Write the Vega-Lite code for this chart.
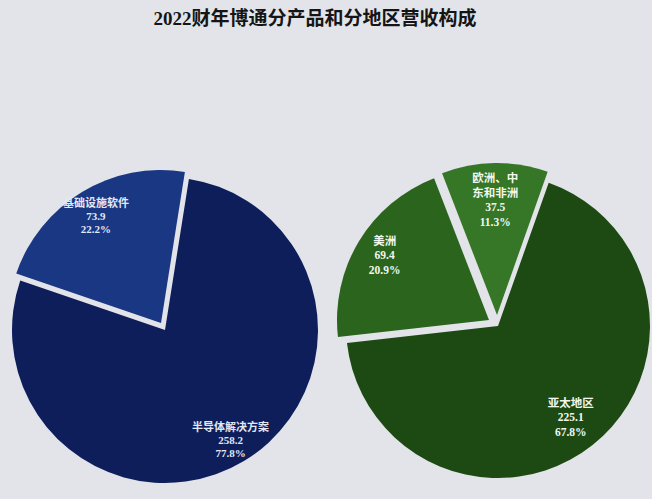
{
  "$schema": "https://vega.github.io/schema/vega-lite/v6.json",
  "background": "#e2e4e9",
  "padding": {"left": 5, "right": 0, "top": 10, "bottom": 0},
  "title": {
    "text": "2022财年博通分产品和分地区营收构成",
    "fontSize": 19,
    "font": "Liberation Serif, Noto Sans CJK SC",
    "fontWeight": "bold",
    "color": "#151515",
    "anchor": "middle",
    "offset": 132,
    "dx": -14
  },
  "datasets": {
    "product": [
      {"name": "半导体解决方案", "value": 258.2, "pct": 77.8},
      {"name": "基础设施软件", "value": 73.9, "pct": 22.2}
    ],
    "region": [
      {"name": "亚太地区", "value": 225.1, "pct": 67.8},
      {"name": "美洲", "value": 69.4, "pct": 20.9},
      {"name": "欧洲、中\n东和非洲", "value": 37.5, "pct": 11.3}
    ]
  },
  "spacing": 12,
  "hconcat": [
    {
      "width": 320,
      "height": 338,
      "data": {"name": "product"},
      "transform": [
        {"stack": "value", "groupby": [], "sort": [{"field": "value", "order": "descending"}], "as": ["v0", "v1"]},
        {"calculate": "datum.name + '\\n' + format(datum.value, '.1f') + '\\n' + format(datum.pct, '.1f') + '%'", "as": "label"}
      ],
      "layer": [
        {
          "transform": [{"filter": "datum.name === '半导体解决方案'"}],
          "mark": {"type": "arc", "radius": 153, "color": "#0e1e5b"},
          "encoding": {
            "theta": {"field": "v0", "type": "quantitative", "scale": {"domain": [0, 332.1], "range": [0.157, 6.440]}},
            "theta2": {"field": "v1"}
          }
        },
        {
          "transform": [{"filter": "datum.name === '基础设施软件'"}],
          "mark": {"type": "arc", "radius": 153, "color": "#1a3784", "xOffset": -4, "yOffset": -7},
          "encoding": {
            "theta": {"field": "v0", "type": "quantitative", "scale": {"domain": [0, 332.1], "range": [0.157, 6.440]}},
            "theta2": {"field": "v1"}
          }
        },
        {
          "mark": {"type": "text", "radius": 127, "dy": -11, "font": "Liberation Serif, Noto Sans CJK SC", "fontSize": 11, "fontWeight": "bold", "lineHeight": 13, "lineBreak": "\n", "color": "#e3e8f4", "align": "center", "baseline": "middle"},
          "encoding": {
            "theta": {"field": "value", "type": "quantitative", "stack": true, "scale": {"domain": [0, 332.1], "range": [0.157, 6.440]}},
            "order": {"field": "value", "sort": "descending"},
            "text": {"condition": {"test": "datum.name === '半导体解决方案'", "field": "label"}, "value": ""}
          }
        },
        {
          "mark": {"type": "text", "radius": 126, "xOffset": -4, "yOffset": -7, "dy": -11, "font": "Liberation Serif, Noto Sans CJK SC", "fontSize": 11, "fontWeight": "bold", "lineHeight": 13, "lineBreak": "\n", "color": "#e3e8f4", "align": "center", "baseline": "middle"},
          "encoding": {
            "theta": {"field": "value", "type": "quantitative", "stack": true, "scale": {"domain": [0, 332.1], "range": [0.157, 6.440]}},
            "order": {"field": "value", "sort": "descending"},
            "text": {"condition": {"test": "datum.name === '基础设施软件'", "field": "label"}, "value": ""}
          }
        }
      ]
    },
    {
      "width": 310,
      "height": 330,
      "data": {"name": "region"},
      "transform": [
        {"stack": "value", "groupby": [], "sort": [{"field": "value", "order": "descending"}], "as": ["v0", "v1"]},
        {"calculate": "datum.name + '\\n' + format(datum.value, '.1f') + '\\n' + format(datum.pct, '.1f') + '%'", "as": "label"}
      ],
      "layer": [
        {
          "transform": [{"filter": "datum.name === '亚太地区'"}],
          "mark": {"type": "arc", "radius": 152, "color": "#1d4a12"},
          "encoding": {
            "theta": {"field": "v0", "type": "quantitative", "scale": {"domain": [0, 332.0], "range": [0.340, 6.623]}},
            "theta2": {"field": "v1"}
          }
        },
        {
          "transform": [{"filter": "datum.name === '美洲'"}],
          "mark": {"type": "arc", "radius": 152, "color": "#2b651d", "xOffset": -9, "yOffset": -6},
          "encoding": {
            "theta": {"field": "v0", "type": "quantitative", "scale": {"domain": [0, 332.0], "range": [0.340, 6.623]}},
            "theta2": {"field": "v1"}
          }
        },
        {
          "transform": [{"filter": "datum.value < 40"}],
          "mark": {"type": "arc", "radius": 152, "color": "#357627", "xOffset": -1, "yOffset": -11},
          "encoding": {
            "theta": {"field": "v0", "type": "quantitative", "scale": {"domain": [0, 332.0], "range": [0.340, 6.623]}},
            "theta2": {"field": "v1"}
          }
        },
        {
          "mark": {"type": "text", "radius": 117, "dy": -14, "font": "Liberation Serif, Noto Sans CJK SC", "fontSize": 11.5, "fontWeight": "bold", "lineHeight": 14.5, "lineBreak": "\n", "color": "#f2f7ee", "align": "center", "baseline": "middle"},
          "encoding": {
            "theta": {"field": "value", "type": "quantitative", "stack": true, "scale": {"domain": [0, 332.0], "range": [0.340, 6.623]}},
            "order": {"field": "value", "sort": "descending"},
            "text": {"condition": {"test": "datum.name === '亚太地区'", "field": "label"}, "value": ""}
          }
        },
        {
          "mark": {"type": "text", "radius": 122, "xOffset": -9, "yOffset": -6, "dy": -15, "font": "Liberation Serif, Noto Sans CJK SC", "fontSize": 11.5, "fontWeight": "bold", "lineHeight": 14.5, "lineBreak": "\n", "color": "#f2f7ee", "align": "center", "baseline": "middle"},
          "encoding": {
            "theta": {"field": "value", "type": "quantitative", "stack": true, "scale": {"domain": [0, 332.0], "range": [0.340, 6.623]}},
            "order": {"field": "value", "sort": "descending"},
            "text": {"condition": {"test": "datum.name === '美洲'", "field": "label"}, "value": ""}
          }
        },
        {
          "mark": {"type": "text", "radius": 117, "xOffset": -1, "yOffset": -11, "dy": -19, "font": "Liberation Serif, Noto Sans CJK SC", "fontSize": 11.5, "fontWeight": "bold", "lineHeight": 14.5, "lineBreak": "\n", "color": "#f2f7ee", "align": "center", "baseline": "middle"},
          "encoding": {
            "theta": {"field": "value", "type": "quantitative", "stack": true, "scale": {"domain": [0, 332.0], "range": [0.340, 6.623]}},
            "order": {"field": "value", "sort": "descending"},
            "text": {"condition": {"test": "datum.value < 40", "field": "label"}, "value": ""}
          }
        }
      ]
    }
  ],
  "config": {"view": {"stroke": null}}
}
